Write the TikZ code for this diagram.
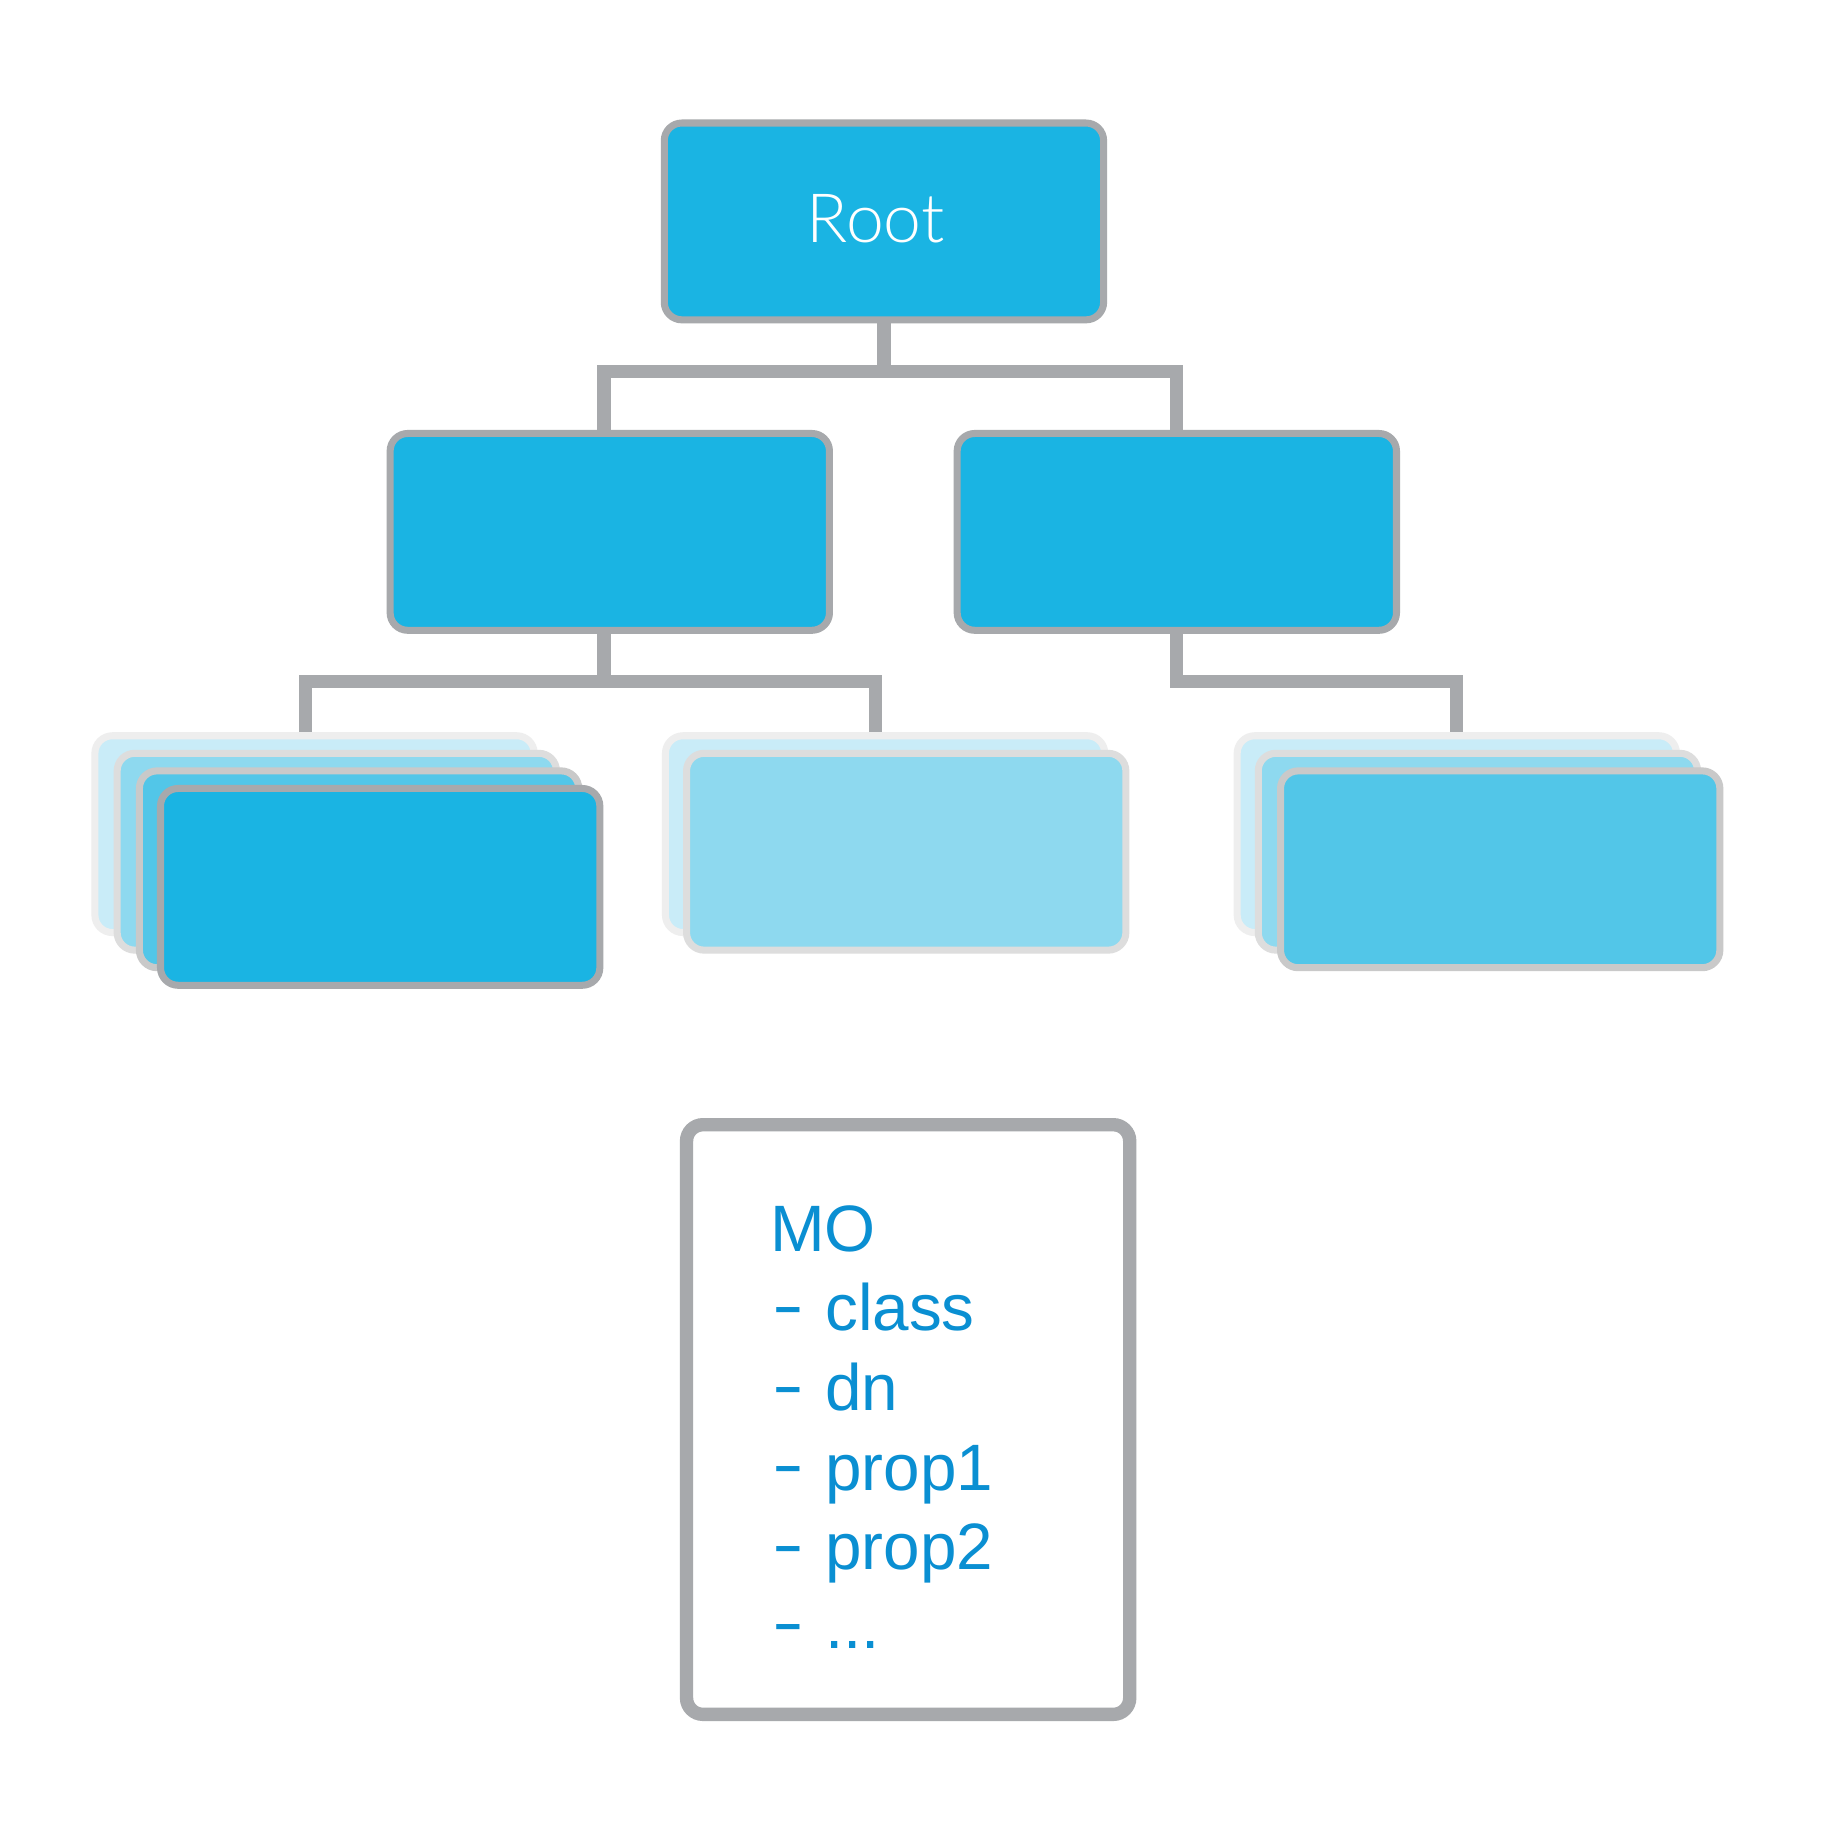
\documentclass[tikz,border=0pt]{standalone}
\usepackage{fontspec}
\setmainfont{Liberation Sans}
\newfontfamily\rootfont{Lato Light}
\usetikzlibrary{backgrounds}
\definecolor{boxblue}{HTML}{1AB4E3}
\definecolor{edgegray}{HTML}{A7A9AC}
\definecolor{fillA}{HTML}{C9ECF8}
\definecolor{edgeA}{HTML}{EEEEEE}
\definecolor{fillB}{HTML}{8ED9EF}
\definecolor{edgeB}{HTML}{DDDDDD}
\definecolor{fillC}{HTML}{52C6E8}
\definecolor{edgeC}{HTML}{C9C9C9}
\definecolor{motext}{HTML}{0A8FD2}
\tikzset{
  card/.style={draw, rounded corners=7.5pt, line width=3pt, minimum width=187.5pt,
    minimum height=84pt, inner sep=0pt, anchor=north west},
  cardD/.style={card, fill=boxblue, draw=edgegray},
  cardA/.style={card, fill=fillA, draw=edgeA},
  cardB/.style={card, fill=fillB, draw=edgeB},
  cardC/.style={card, fill=fillC, draw=edgeC},
  conn/.style={draw=edgegray, line width=5.6pt, line join=miter},
  motxt/.style={text=motext, font=\fontsize{28}{34}\selectfont, anchor=base west, inner sep=0pt},
  dashtxt/.style={motxt}
}
\newcommand{\mydash}{\raisebox{1.5pt}{\scalebox{1.45}[1]{-}}}
\begin{document}
\begin{tikzpicture}[x=0.5pt, y=-0.5pt]
\useasboundingbox (0,0) rectangle (1560,1568);
% top levels
\node[cardD] (root) at (564,102) {};
\node[text=white, font=\rootfont\fontsize{29}{34}\selectfont, anchor=base, inner sep=0pt] (roottext) at (747.5,207) {Root};
\node[cardD] (midL) at (330,367) {};
\node[cardD] (midR) at (814,367) {};
% left stack
\node[cardA] (L1) at (78,625) {};
\node[cardB] (L2) at (97,640) {};
\node[cardC] (L3) at (116,655) {};
\node[cardD] (L4) at (134,670) {};
% middle stack
\node[cardA] (M1) at (565,625) {};
\node[cardB] (M2) at (583,640) {};
% right stack
\node[cardA] (R1) at (1053,625) {};
\node[cardB] (R2) at (1071,640) {};
\node[cardC] (R3) at (1090,655) {};
% connectors (behind the boxes)
\begin{scope}[on background layer]
\fill[white] (0,0) rectangle (1560,1568);
\draw[conn] (root.south) -- (root.south |- 0,317) coordinate (rj);
\draw[conn] ([xshift=-2.5pt]midL.north) |- (rj) -| (midR.north);
\draw[conn] ([xshift=-2.5pt]midL.south) -- ([xshift=-2.5pt]midL.south |- 0,582) coordinate (lj);
\draw[conn] ([xshift=-4pt]L1.north) |- (lj) -| ([xshift=-4pt]M1.north);
\draw[conn] (midR.south) |- (R1.north |- 0,582) -- (R1.north);
\end{scope}
% MO box
\draw[edgegray, line width=5.7pt, rounded corners=7pt, fill=white] (586,960) rectangle (964.3,1463.3);
\node[motxt] (mo) at (657,1068) {MO};
\node[dashtxt] (d1) at (659,1136) {\mydash};
\node[motxt] (w1) at (704,1136) {class};
\node[dashtxt] (d2) at (659,1204) {\mydash};
\node[motxt] (w2) at (704,1204) {dn};
\node[dashtxt] (d3) at (659,1272) {\mydash};
\node[motxt] (w3) at (704,1272) {prop1};
\node[dashtxt] (d4) at (659,1340) {\mydash};
\node[motxt] (w4) at (704,1340) {prop2};
\node[dashtxt] (d5) at (659,1407) {\mydash};
\node[motxt] (w5) at (704,1407) {...};
\end{tikzpicture}
\end{document}
